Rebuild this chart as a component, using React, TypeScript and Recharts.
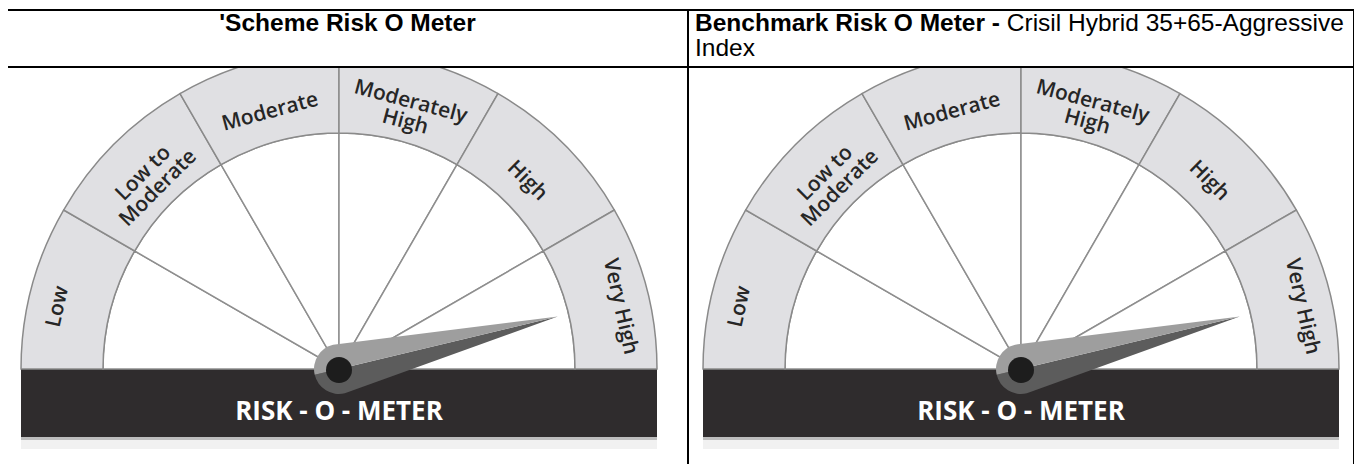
import { PieChart, Pie, Cell, Customized } from "recharts"

// risk bands, left to right round the dial
const riskLevels = ["Low", "Low to Moderate", "Moderate", "Moderately High", "High", "Very High"]
const levelLabelLines = [["Low"], ["Low to", "Moderate"], ["Moderate"], ["Moderately", "High"], ["High"], ["Very High"]]
const levelWeights = [1, 1, 1, 1, 1, 1]

// needle position on the 0..6 scale of the dial
const schemeReading = 5.55
const benchmarkReading = 5.55

const schemeTitle = "'Scheme Risk O Meter"
const benchmarkTitleBold = "Benchmark Risk O Meter - "
const benchmarkTitleRest = "Crisil Hybrid 35+65-Aggressive"
const benchmarkTitleWrap = "Index"
const meterCaption = "RISK - O - METER"

const levelData = riskLevels.map((name, i) => ({ name, value: levelWeights[i] }))
const totalWeight = levelWeights.reduce((a, b) => a + b, 0)

const RAD = Math.PI / 180
const INNER_R = 236
const OUTER_R = 318
const NEEDLE_R = 225

function polar(cx: number, cy: number, r: number, deg: number) {
  return { x: cx + r * Math.cos(deg * RAD), y: cy - r * Math.sin(deg * RAD) }
}

function RingLabel(props: any) {
  const { cx, cy, midAngle, index } = props
  const lines = levelLabelLines[index]
  // the two end labels sit further out and a little nearer the bar
  const isEnd = index === 0 || index === levelLabelLines.length - 1
  const r = isEnd ? 290 : 268
  const ang = isEnd ? midAngle + (midAngle > 90 ? 2.5 : -2.5) : midAngle
  const p = polar(cx, cy, r, ang)
  const rot = 90 - ang
  const lh = 21
  const start = -((lines.length - 1) * lh) / 2
  return (
    <text
      x={p.x}
      y={p.y}
      transform={`rotate(${rot} ${p.x} ${p.y})`}
      textAnchor="middle"
      dominantBaseline="central"
      fontFamily="'Open Sans', sans-serif"
      fontWeight={600}
      fontSize={21}
      fill="#262626"
    >
      {lines.map((l: string, i: number) => (
        <tspan key={i} x={p.x} y={p.y + start + i * lh}>
          {l}
        </tspan>
      ))}
    </text>
  )
}

function Band({ cx, cy }: { cx: number; cy: number }) {
  return (
    <g>
      <rect x={cx - OUTER_R} y={cy} width={OUTER_R * 2} height={68} fill="#2f2c2d" />
      <rect x={cx - OUTER_R} y={cy + 68} width={OUTER_R * 2} height={3} fill="#bdbdbd" />
      <rect x={cx - OUTER_R} y={cy + 71} width={OUTER_R * 2} height={9} fill="#f1f1f1" />
      <text
        x={cx}
        y={cy + 41}
        textAnchor="middle"
        dominantBaseline="central"
        fontFamily="'Open Sans', sans-serif"
        fontWeight={700}
        fontSize={26}
        fill="#ffffff"
      >
        {meterCaption}
      </text>
    </g>
  )
}

// drawn as the label of the first sector of the reading pie, at that sector's end angle
function NeedleLabel(props: any) {
  const { cx, cy, index, endAngle } = props
  if (index !== 0) return null
  const angle = endAngle
  const tip = polar(cx, cy, NEEDLE_R, angle)
  const baseR = 25
  const up = polar(cx, cy, baseR, angle + 90)
  const down = polar(cx, cy, baseR, angle - 90)
  const back = polar(cx, cy, baseR, angle + 180)
  return (
    <g>
      <path
        d={`M ${tip.x} ${tip.y} L ${down.x} ${down.y} A ${baseR} ${baseR} 0 0 1 ${back.x} ${back.y} L ${cx} ${cy} Z`}
        fill="#5c5c5c"
      />
      <path
        d={`M ${tip.x} ${tip.y} L ${up.x} ${up.y} A ${baseR} ${baseR} 0 0 0 ${back.x} ${back.y} L ${cx} ${cy} Z`}
        fill="#9e9e9e"
      />
      <circle cx={cx} cy={cy + 1} r={13} fill="#1d1d1d" />
    </g>
  )
}

function Gauge({ reading, cx, cy, width, height }: { reading: number; cx: number; cy: number; width: number; height: number }) {
  const readingData = [
    { name: "reading", value: reading },
    { name: "rest", value: totalWeight - reading },
  ]
  return (
    <div style={{ position: "relative", width, height }}>
      <div style={{ position: "absolute", left: 0, top: 0 }}>
        <PieChart width={width} height={height} margin={{ top: 0, right: 0, bottom: 0, left: 0 }}>
          <Pie
            data={levelData}
            dataKey="value"
            cx={cx}
            cy={cy}
            startAngle={180}
            endAngle={0}
            innerRadius={0}
            outerRadius={INNER_R}
            fill="#ffffff"
            stroke="#8e8e8e"
            strokeWidth={1.5}
            isAnimationActive={false}
          >
            {levelData.map((d) => (
              <Cell key={d.name} fill="#ffffff" />
            ))}
          </Pie>
          <Pie
            data={levelData}
            dataKey="value"
            cx={cx}
            cy={cy}
            startAngle={180}
            endAngle={0}
            innerRadius={INNER_R}
            outerRadius={OUTER_R}
            stroke="#8a8a8a"
            strokeWidth={1.5}
            label={RingLabel}
            labelLine={false}
            isAnimationActive={false}
          >
            {levelData.map((d) => (
              <Cell key={d.name} fill="#e0e0e3" />
            ))}
          </Pie>
          <Customized component={() => <Band cx={cx} cy={cy} />} />
        </PieChart>
      </div>
      <div style={{ position: "absolute", left: 0, top: 0 }}>
        <PieChart width={width} height={height} margin={{ top: 0, right: 0, bottom: 0, left: 0 }}>
          <Pie
            data={readingData}
            dataKey="value"
            cx={cx}
            cy={cy}
            startAngle={180}
            endAngle={0}
            innerRadius={0}
            outerRadius={NEEDLE_R}
            fill="none"
            stroke="none"
            label={NeedleLabel}
            labelLine={false}
            isAnimationActive={false}
          >
            {readingData.map((d) => (
              <Cell key={d.name} fill="none" stroke="none" />
            ))}
          </Pie>
        </PieChart>
      </div>
    </div>
  )
}

const line = "#000000"

export default function App() {
  return (
    <div
      style={{
        position: "relative",
        margin: -8,
        width: 1362,
        height: 472,
        background: "#ffffff",
        overflow: "hidden",
        fontFamily: "'Liberation Sans', Arial, sans-serif",
        color: "#000",
      }}
    >
      {/* table rules */}
      <div style={{ position: "absolute", left: 6, top: 9, width: 1350, height: 2, background: line }} />
      <div style={{ position: "absolute", left: 6, top: 66, width: 1350, height: 2, background: line }} />
      <div style={{ position: "absolute", left: 6, top: 9, width: 2, height: 463, background: line }} />
      <div style={{ position: "absolute", left: 687, top: 9, width: 2, height: 463, background: line }} />
      <div style={{ position: "absolute", left: 1353, top: 9, width: 2, height: 463, background: line }} />

      <div
        style={{
          position: "absolute",
          left: 8,
          top: 10,
          width: 679,
          textAlign: "center",
          fontWeight: 700,
          fontSize: 24.5,
          lineHeight: "25px",
        }}
      >
        {schemeTitle}
      </div>
      <div
        style={{
          position: "absolute",
          left: 695,
          top: 10,
          width: 658,
          fontSize: 24.5,
          lineHeight: "25px",
          whiteSpace: "nowrap",
        }}
      >
        <b>{benchmarkTitleBold}</b>
        {benchmarkTitleRest}
        <br />
        {benchmarkTitleWrap}
      </div>

      <div style={{ position: "absolute", left: 8, top: 68, width: 679, height: 404, overflow: "hidden" }}>
        <Gauge reading={schemeReading} cx={331} cy={301} width={679} height={404} />
      </div>
      <div style={{ position: "absolute", left: 689, top: 68, width: 664, height: 404, overflow: "hidden" }}>
        <Gauge reading={benchmarkReading} cx={332} cy={301} width={664} height={404} />
      </div>
    </div>
  )
}
